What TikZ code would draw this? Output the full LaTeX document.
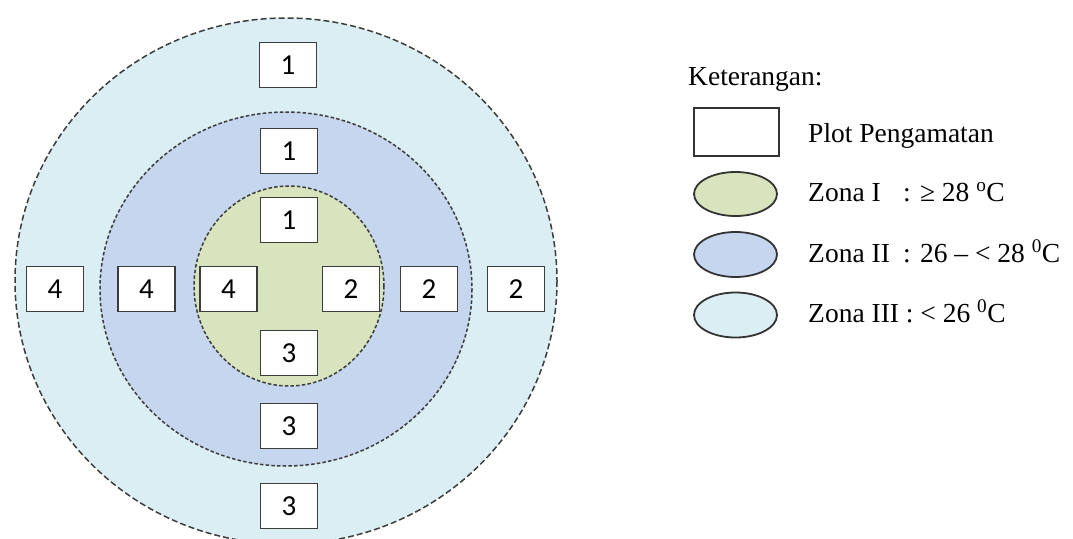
\documentclass[tikz,border=0pt]{standalone}
\usepackage{fontspec}
\setmainfont{Liberation Serif}
\newfontfamily\boxfont{Carlito}
\usetikzlibrary{shapes.geometric}
\definecolor{zoneA}{HTML}{D7E4BD}
\definecolor{zoneB}{HTML}{C6D6EF}
\definecolor{zoneC}{HTML}{DAEEF3}
\definecolor{edgegray}{HTML}{3C3C3C}
\tikzset{
  plotbox/.style={draw=edgegray, line width=1.3pt, fill=white, minimum width=57pt,
    minimum height=45pt, inner sep=0pt, font=\boxfont\fontsize{29}{29}\selectfont},
  outerline/.style={draw=edgegray, line width=1.5pt, dash pattern=on 6pt off 3pt},
  innerline/.style={draw=edgegray, line width=1.5pt, dash pattern=on 3.5pt off 2.2pt},
  lg/.style={anchor=base west, inner sep=0pt, font=\fontsize{27.5}{30}\selectfont},
  lgshape/.style={draw=black!80, line width=1.8pt},
}
\begin{document}
\begin{tikzpicture}[x=1pt,y=-1pt]
\useasboundingbox (0,0) rectangle (1073,538);
\begin{scope}
  \clip (0,0) rectangle (1073,538);
  \path[fill=zoneC, outerline] (286,281) ellipse [x radius=271, y radius=263];
\end{scope}
\path[fill=zoneB, innerline] (286,289) ellipse [x radius=186, y radius=177];
\path[fill=zoneA, innerline] (289,286) ellipse [x radius=95, y radius=100];

% plots
\node[plotbox] (o1) at (288,65) {1};
\node[plotbox] (m1) at (289,151) {1};
\node[plotbox] (i1) at (289,220) {1};
\node[plotbox] (i3) at (289,353) {3};
\node[plotbox] (m3) at (289,426) {3};
\node[plotbox] (o3) at (289,506) {3};
\node[plotbox] (o4) at (55,289) {4};
\node[plotbox] (m4) at (146.5,289) {4};
\node[plotbox] (i4) at (228.5,289) {4};
\node[plotbox] (i2) at (351,289) {2};
\node[plotbox] (m2) at (429,289) {2};
\node[plotbox] (o2) at (516,289) {2};

% legend
\node[lg] (ket) at (688,85) {Keterangan:};
\node[lgshape, rectangle, minimum width=85pt, minimum height=48pt, inner sep=0pt] (lr) at (736.5,132) {};
\node[lg] (lrt) at (808,142) {Plot Pengamatan};
\node[lgshape, ellipse, fill=zoneA, minimum width=83pt, minimum height=44pt, inner sep=0pt] (le1) at (735.5,194) {};
\node[lg] (z1) at (808,201) {Zona I};
\node[lg] (z1v) at (903,201) {: ≥ 28 \textsuperscript{o}C};
\node[lgshape, ellipse, fill=zoneB, minimum width=83pt, minimum height=45pt, inner sep=0pt] (le2) at (735.5,254.5) {};
\node[lg] (z2) at (808,262) {Zona II};
\node[lg] (z2v) at (903,262) {: 26 – < 28 \textsuperscript{0}C};
\node[lgshape, ellipse, fill=zoneC, minimum width=83pt, minimum height=45pt, inner sep=0pt] (le3) at (735.5,315) {};
\node[lg] (z3) at (808,322) {Zona III : < 26 \textsuperscript{0}C};
\end{tikzpicture}
\end{document}
